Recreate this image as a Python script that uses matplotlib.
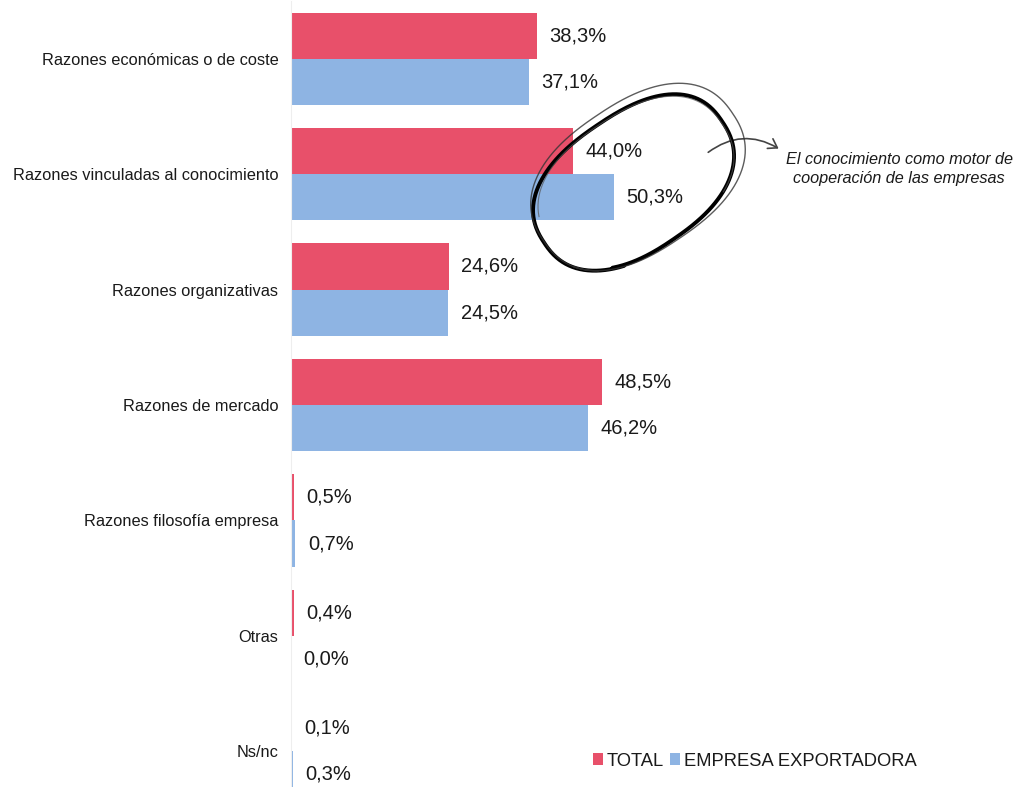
import numpy as np
import matplotlib
matplotlib.use("Agg")
import matplotlib.pyplot as plt
from matplotlib.patches import FancyArrowPatch

plt.rcParams['font.family'] = ['Liberation Sans', 'DejaVu Sans']

# datos
categorias = ['Razones económicas o de coste', 'Razones vinculadas al conocimiento',
              'Razones organizativas', 'Razones de mercado', 'Razones filosofía empresa',
              'Otras', 'Ns/nc']
total = [38.3, 44.0, 24.6, 48.5, 0.5, 0.4, 0.1]
exportadora = [37.1, 50.3, 24.5, 46.2, 0.7, 0.0, 0.3]
series = ['TOTAL', 'EMPRESA EXPORTADORA']

rojo = '#E8506A'
azul = '#8EB4E3'

W, H = 1021, 787
fig = plt.figure(figsize=(W / 100, H / 100), dpi=100)

# eje principal: parte superior en y=1px, parte inferior fuera de la figura
top_px, bot_px = 1, 809
ax = fig.add_axes([291 / W, 1 - bot_px / H, (W - 291) / W, (bot_px - top_px) / H])

y = np.arange(len(categorias))
h = 0.4
ax.barh(y - h / 2, total, height=h, color=rojo, label=series[0])
ax.barh(y + h / 2, exportadora, height=h, color=azul, label=series[1])

ax.set_xlim(0, (W - 291) / 6.42)
ax.set_ylim(len(categorias) - 0.5, -0.5)

for yi, v in zip(y - h / 2, total):
    ax.annotate(f'{v:.1f}%'.replace('.', ','), (v, yi), xytext=(9, 0),
                textcoords='offset points', va='center', ha='left', fontsize=14.5, color='#1a1a1a')
for yi, v in zip(y + h / 2, exportadora):
    ax.annotate(f'{v:.1f}%'.replace('.', ','), (v, yi), xytext=(9, 0),
                textcoords='offset points', va='center', ha='left', fontsize=14.5, color='#1a1a1a')

ax.set_yticks(y)
ax.set_yticklabels(categorias, fontsize=11.8, color='#1a1a1a')
ax.tick_params(axis='y', length=0, pad=9)
ax.set_xticks([])
for s in ['top', 'right', 'bottom']:
    ax.spines[s].set_visible(False)
ax.spines['left'].set_color('#eeeeee')
ax.spines['left'].set_linewidth(0.8)

fig.legend(loc='center left', bbox_to_anchor=(576 / W, 1 - 761 / H), ncol=2, frameon=False,
           fontsize=13.2, handlelength=0.55, handleheight=0.55, handletextpad=0.2,
           columnspacing=0.35, labelcolor='#1a1a1a')

# capa de anotación en píxeles
ov = fig.add_axes([0, 0, 1, 1], facecolor='none')
ov.set_xlim(0, W)
ov.set_ylim(H, 0)
ov.axis('off')


def trazo(t, a, b, dx=0, dy=0, n=2.4):
    ang = np.deg2rad(-34)
    c, s = np.cos(t), np.sin(t)
    ex = a * np.sign(c) * np.abs(c) ** (2 / n)
    ey = b * np.sign(s) * np.abs(s) ** (2 / n)
    cx, cy = 636 + dx, 180 + dy
    return (cx + ex * np.cos(ang) - ey * np.sin(ang),
            cy + ex * np.sin(ang) + ey * np.cos(ang))


t = np.linspace(0.65 * np.pi, 2.7 * np.pi, 500)
px, py = trazo(t, 108 + 4 * np.sin(t * 0.7), 70 + 3 * np.cos(t * 0.6))
ov.plot(px, py, color='black', lw=2.8, solid_capstyle='round')
t2 = np.linspace(0.75 * np.pi, 2.85 * np.pi, 500)
px, py = trazo(t2, 114, 74, dx=2, dy=-3)
ov.plot(px, py, color='#333333', lw=1.0, alpha=0.8)
t3 = np.linspace(1.1 * np.pi, 2.3 * np.pi, 200)
px, py = trazo(t3, 104, 68, dy=2)
ov.plot(px, py, color='#555555', lw=0.8, alpha=0.7)

arr = FancyArrowPatch((706, 154), (781, 150), connectionstyle='arc3,rad=-0.35',
                      arrowstyle='->,head_length=6,head_width=4', color='#444444', lw=1.2)
ov.add_patch(arr)

ov.text(899, 169, 'El conocimiento como motor de\ncooperación de las empresas', ha='center',
        va='center', fontsize=11.7, style='italic', color='#1a1a1a', linespacing=1.25)

fig.savefig('out.png', dpi=100)
